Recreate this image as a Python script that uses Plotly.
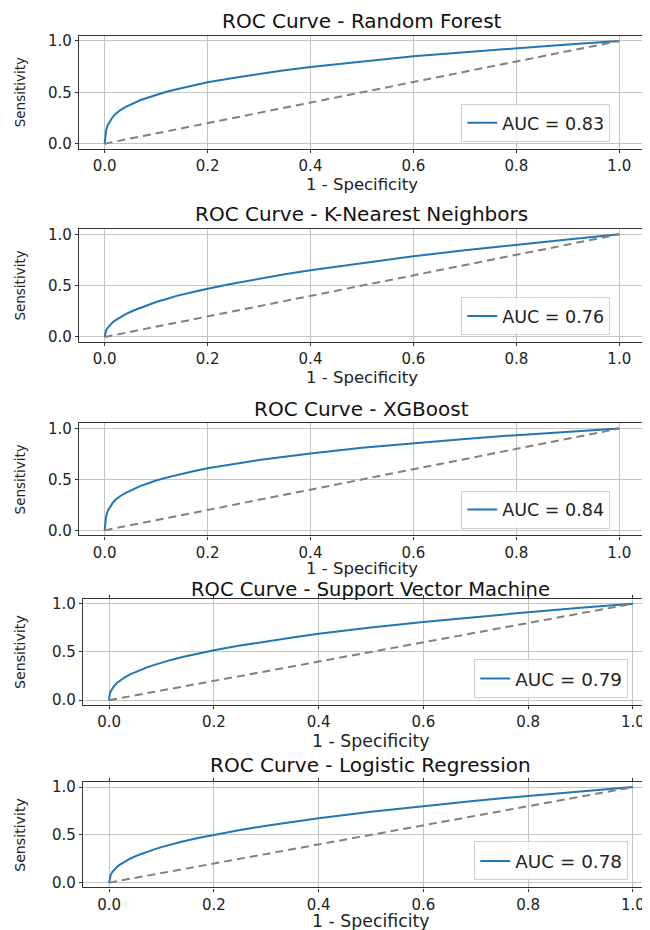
import plotly.graph_objects as go

# false positive rate grid shared by all curves
fpr = [0, 0.001, 0.003, 0.006, 0.01, 0.015, 0.02, 0.03, 0.04, 0.055, 0.07, 0.085,
       0.1, 0.12, 0.14, 0.17, 0.2, 0.25, 0.3, 0.35, 0.4, 0.5, 0.6, 0.7, 0.8, 0.9, 1.0]

tpr_rf = [0, 0.08, 0.13, 0.18, 0.22, 0.255, 0.285, 0.325, 0.355, 0.39, 0.425, 0.45,
          0.475, 0.505, 0.53, 0.565, 0.598, 0.64, 0.68, 0.714, 0.746, 0.80, 0.85, 0.89, 0.93, 0.965, 1.0]
tpr_knn = [0, 0.04, 0.065, 0.09, 0.115, 0.14, 0.16, 0.19, 0.22, 0.255, 0.285, 0.31,
           0.34, 0.37, 0.40, 0.435, 0.47, 0.52, 0.567, 0.61, 0.65, 0.72, 0.785, 0.845, 0.90, 0.95, 1.0]
tpr_xgb = [0, 0.09, 0.14, 0.19, 0.23, 0.265, 0.295, 0.335, 0.365, 0.405, 0.437, 0.463,
           0.49, 0.518, 0.545, 0.578, 0.61, 0.652, 0.69, 0.723, 0.755, 0.81, 0.857, 0.897, 0.935, 0.968, 1.0]
tpr_svm = [0, 0.06, 0.09, 0.12, 0.15, 0.178, 0.20, 0.237, 0.267, 0.303, 0.335, 0.363,
           0.39, 0.42, 0.447, 0.484, 0.518, 0.566, 0.61, 0.65, 0.688, 0.753, 0.81, 0.864, 0.912, 0.958, 1.0]
tpr_lr = [0, 0.05, 0.08, 0.11, 0.138, 0.164, 0.186, 0.221, 0.25, 0.287, 0.319, 0.346,
          0.372, 0.402, 0.43, 0.467, 0.50, 0.551, 0.596, 0.637, 0.674, 0.742, 0.803, 0.858, 0.908, 0.956, 1.0]

models = ["Random Forest", "K-Nearest Neighbors", "XGBoost",
          "Support Vector Machine", "Logistic Regression"]
aucs = [0.83, 0.76, 0.84, 0.79, 0.78]
tprs = [tpr_rf, tpr_knn, tpr_xgb, tpr_svm, tpr_lr]
chance = [0, 1]
x_ticks = [0, 0.2, 0.4, 0.6, 0.8, 1.0]
y_ticks = [0, 0.5, 1.0]

W, H = 650, 930
OFF = 8  # page body margin shifts the figure by this much
FONT = "DejaVu Sans"


def px(v):
    return (v - OFF) / W


def py(v):
    return 1 - (v - OFF) / H


# panel boxes in screen pixels: left, right, top, bottom, x max, title y, xlabel y, legend left, font scale
panels = [
    (79, 646, 32, 146, 1.05, 17, 182, 462, 1.0),
    (79, 646, 227, 341, 1.05, 212, 377, 462, 1.0),
    (79, 646, 423, 536, 1.05, 408, 569, 462, 1.0),
    (83, 658, 600, 707, 1.046, 591, 743, 475, 1.05),
    (83, 658, 785, 891, 1.046, 768, 925, 475, 1.05),
]

fig = go.Figure()
annotations = []
layout = {}

for i, (model, auc, tpr) in enumerate(zip(models, aucs, tprs)):
    left, right, top, bottom, xmax, ty, ly, legx, fs = panels[i]
    n = "" if i == 0 else str(i + 1)
    xa, ya = "x" + n, "y" + n
    leg = "legend" + n
    full_right = right if i < 3 else 660

    fig.add_trace(go.Scatter(
        x=fpr, y=tpr, mode="lines", line=dict(color="#1f77b4", width=2),
        name=f"AUC = {auc:.2f}", xaxis=xa, yaxis=ya, legend=leg))
    fig.add_trace(go.Scatter(
        x=chance, y=chance, mode="lines", line=dict(color="#808080", width=2, dash="8px,5px"),
        showlegend=False, xaxis=xa, yaxis=ya))

    axis_common = dict(showline=True, linecolor="#333", linewidth=1.2,
                       showgrid=True, gridcolor="#c4c4c4", gridwidth=1, zeroline=False,
                       ticks="outside", ticklen=3, tickcolor="#333",
                       tickfont=dict(size=15, color="#222", family=FONT))
    layout["xaxis" + n] = dict(axis_common, domain=[px(left), min(px(right), 1)], anchor=ya,
                               range=[-0.05, xmax], tickvals=x_ticks,
                               ticktext=[f"{v:.1f}" for v in x_ticks],
                               mirror=True if i < 3 else "ticks")
    layout["yaxis" + n] = dict(axis_common, domain=[py(bottom), py(top)], anchor=xa,
                               range=[-0.05, 1.05], tickvals=y_ticks,
                               ticktext=[f"{v:.1f}" for v in y_ticks],
                               mirror=True)
    layout[leg] = dict(x=px(legx), xanchor="left", y=py(bottom - 7), yanchor="bottom",
                       bgcolor="rgba(255,255,255,0.85)", bordercolor="#d0d0d0", borderwidth=1,
                       font=dict(size=17.5 * fs, color="#222", family=FONT))

    annotations.append(dict(text=f"ROC Curve - {model}", x=px((left + full_right) / 2),
                            y=py(ty), xref="paper", yref="paper", showarrow=False,
                            xanchor="center", yanchor="middle",
                            font=dict(size=20 if i != 3 else 19.5, color="#111", family=FONT)))
    annotations.append(dict(text="1 - Specificity", x=px((left + full_right) / 2),
                            y=py(ly), xref="paper", yref="paper", showarrow=False,
                            xanchor="center", yanchor="middle",
                            font=dict(size=16.5 * fs, color="#222", family=FONT)))
    annotations.append(dict(text="Sensitivity", x=px(20), y=py((top + bottom) / 2),
                            xref="paper", yref="paper", showarrow=False, textangle=-90,
                            xanchor="center", yanchor="middle",
                            font=dict(size=13.5 * fs, color="#222", family=FONT)))

fig.update_layout(
    width=W, height=H,
    margin=dict(l=0, r=0, t=0, b=0),
    paper_bgcolor="white", plot_bgcolor="white",
    annotations=annotations,
    **layout,
)

fig.write_html("out.html")
